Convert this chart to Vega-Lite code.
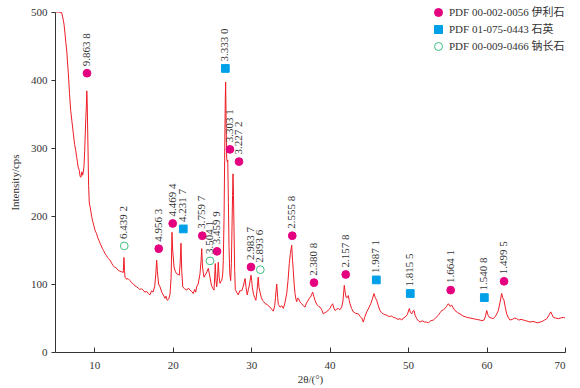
{
  "$schema": "https://vega.github.io/schema/vega-lite/v6.json",
  "width": 510,
  "height": 340,
  "autosize": {"type": "none"},
  "padding": {"left": 55, "top": 12, "right": 15, "bottom": 36},
  "config": {
    "view": {"stroke": null},
    "font": "Liberation Serif",
    "axis": {
      "grid": false,
      "domainColor": "#333333",
      "tickColor": "#333333",
      "labelColor": "#333333",
      "titleColor": "#333333",
      "labelFont": "Liberation Serif",
      "titleFont": "Liberation Serif",
      "labelFontSize": 11,
      "titleFontSize": 11,
      "titleFontWeight": "normal"
    },
    "legend": {
      "orient": "none",
      "legendX": 378,
      "legendY": -5,
      "padding": 0,
      "rowPadding": 4,
      "symbolSize": 64,
      "symbolStrokeWidth": 1,
      "labelFont": "Liberation Serif, Noto Sans CJK SC",
      "labelFontSize": 11,
      "labelColor": "#333333",
      "labelOffset": 5,
      "labelLimit": 200
    }
  },
  "datasets": {
    "xrd": [
      {"t":5.09,"i":500},{"t":5.5,"i":500},{"t":5.85,"i":499},{"t":5.95,"i":494},{"t":6.06,"i":488},{"t":6.15,"i":482},{"t":6.27,"i":469},{"t":6.38,"i":455},{"t":6.49,"i":444},{"t":6.6,"i":425},{"t":6.7,"i":410},{"t":6.85,"i":380},{"t":7.0,"i":355},{"t":7.15,"i":340},{"t":7.33,"i":322},{"t":7.5,"i":305},{"t":7.65,"i":296},{"t":7.77,"i":286},{"t":7.95,"i":272},{"t":8.1,"i":267},{"t":8.2,"i":258},{"t":8.31,"i":257},{"t":8.42,"i":265},{"t":8.53,"i":260},{"t":8.62,"i":266},{"t":8.7,"i":274},{"t":8.78,"i":295},{"t":8.86,"i":322},{"t":8.93,"i":345},{"t":8.99,"i":360},{"t":9.05,"i":384},{"t":9.1,"i":370},{"t":9.21,"i":297},{"t":9.28,"i":245},{"t":9.37,"i":219},{"t":9.5,"i":212},{"t":9.68,"i":199},{"t":9.8,"i":192},{"t":9.95,"i":186},{"t":10.1,"i":179},{"t":10.3,"i":174},{"t":10.45,"i":168},{"t":10.6,"i":164},{"t":10.74,"i":160},{"t":10.9,"i":156},{"t":11.05,"i":152},{"t":11.2,"i":149},{"t":11.37,"i":145},{"t":11.55,"i":142},{"t":11.7,"i":139},{"t":11.85,"i":137},{"t":12.01,"i":135},{"t":12.2,"i":131},{"t":12.4,"i":127},{"t":12.6,"i":125},{"t":12.86,"i":123},{"t":13.05,"i":120},{"t":13.25,"i":119},{"t":13.5,"i":118},{"t":13.7,"i":117},{"t":13.79,"i":139},{"t":13.86,"i":120},{"t":13.92,"i":110},{"t":14.1,"i":107},{"t":14.3,"i":108},{"t":14.56,"i":105},{"t":14.75,"i":102},{"t":15.0,"i":100},{"t":15.2,"i":97},{"t":15.41,"i":96},{"t":15.6,"i":94},{"t":15.8,"i":92},{"t":16.0,"i":93},{"t":16.25,"i":91},{"t":16.45,"i":88},{"t":16.7,"i":89},{"t":16.89,"i":86},{"t":17.1,"i":84},{"t":17.3,"i":90},{"t":17.5,"i":88},{"t":17.7,"i":96},{"t":17.85,"i":115},{"t":17.96,"i":135},{"t":18.05,"i":118},{"t":18.2,"i":100},{"t":18.38,"i":96},{"t":18.6,"i":88},{"t":18.8,"i":84},{"t":19.02,"i":79},{"t":19.15,"i":82},{"t":19.31,"i":76},{"t":19.5,"i":78},{"t":19.66,"i":85},{"t":19.8,"i":110},{"t":19.91,"i":176},{"t":20.0,"i":150},{"t":20.17,"i":125},{"t":20.35,"i":118},{"t":20.51,"i":115},{"t":20.7,"i":114},{"t":20.84,"i":113},{"t":20.95,"i":130},{"t":21.06,"i":160},{"t":21.15,"i":120},{"t":21.28,"i":96},{"t":21.5,"i":93},{"t":21.79,"i":91},{"t":22.0,"i":94},{"t":22.21,"i":91},{"t":22.42,"i":89},{"t":22.63,"i":86},{"t":22.8,"i":92},{"t":22.93,"i":88},{"t":23.06,"i":96},{"t":23.25,"i":100},{"t":23.48,"i":115},{"t":23.62,"i":135},{"t":23.7,"i":152},{"t":23.8,"i":125},{"t":23.99,"i":110},{"t":24.12,"i":113},{"t":24.25,"i":115},{"t":24.4,"i":119},{"t":24.54,"i":123},{"t":24.65,"i":116},{"t":24.76,"i":110},{"t":24.9,"i":100},{"t":25.01,"i":96},{"t":25.15,"i":93},{"t":25.27,"i":91},{"t":25.43,"i":130},{"t":25.52,"i":105},{"t":25.61,"i":96},{"t":25.72,"i":110},{"t":25.81,"i":132},{"t":25.92,"i":110},{"t":26.03,"i":101},{"t":26.15,"i":104},{"t":26.25,"i":105},{"t":26.38,"i":115},{"t":26.45,"i":135},{"t":26.55,"i":200},{"t":26.62,"i":282},{"t":26.7,"i":370},{"t":26.75,"i":397},{"t":26.82,"i":330},{"t":26.88,"i":285},{"t":26.95,"i":280},{"t":27.02,"i":282},{"t":27.1,"i":220},{"t":27.18,"i":154},{"t":27.28,"i":115},{"t":27.39,"i":105},{"t":27.48,"i":130},{"t":27.56,"i":184},{"t":27.63,"i":230},{"t":27.69,"i":262},{"t":27.75,"i":230},{"t":27.81,"i":184},{"t":27.9,"i":120},{"t":27.98,"i":92},{"t":28.15,"i":88},{"t":28.36,"i":84},{"t":28.55,"i":90},{"t":28.8,"i":90},{"t":29.0,"i":97},{"t":29.1,"i":102},{"t":29.22,"i":108},{"t":29.35,"i":95},{"t":29.5,"i":84},{"t":29.65,"i":92},{"t":29.8,"i":100},{"t":29.98,"i":113},{"t":30.07,"i":105},{"t":30.15,"i":95},{"t":30.3,"i":85},{"t":30.45,"i":80},{"t":30.6,"i":76},{"t":30.75,"i":90},{"t":30.9,"i":110},{"t":31.0,"i":95},{"t":31.13,"i":88},{"t":31.3,"i":80},{"t":31.45,"i":76},{"t":31.6,"i":74},{"t":31.8,"i":71},{"t":32.0,"i":70},{"t":32.2,"i":68},{"t":32.4,"i":66},{"t":32.6,"i":63},{"t":32.83,"i":60},{"t":33.0,"i":68},{"t":33.1,"i":80},{"t":33.26,"i":100},{"t":33.38,"i":80},{"t":33.46,"i":70},{"t":33.68,"i":66},{"t":33.9,"i":68},{"t":34.1,"i":64},{"t":34.3,"i":72},{"t":34.53,"i":86},{"t":34.7,"i":105},{"t":34.86,"i":130},{"t":35.0,"i":145},{"t":35.17,"i":157},{"t":35.27,"i":135},{"t":35.37,"i":120},{"t":35.48,"i":100},{"t":35.59,"i":86},{"t":35.7,"i":78},{"t":35.81,"i":74},{"t":35.9,"i":79},{"t":36.01,"i":79},{"t":36.2,"i":74},{"t":36.44,"i":71},{"t":36.65,"i":68},{"t":36.86,"i":66},{"t":37.05,"i":72},{"t":37.28,"i":76},{"t":37.45,"i":80},{"t":37.59,"i":81},{"t":37.72,"i":85},{"t":37.84,"i":88},{"t":37.98,"i":82},{"t":38.14,"i":76},{"t":38.28,"i":72},{"t":38.43,"i":69},{"t":38.6,"i":67},{"t":38.78,"i":66},{"t":39.0,"i":62},{"t":39.2,"i":56},{"t":39.4,"i":58},{"t":39.63,"i":59},{"t":39.85,"i":62},{"t":40.05,"i":64},{"t":40.2,"i":68},{"t":40.39,"i":71},{"t":40.55,"i":64},{"t":40.69,"i":61},{"t":40.9,"i":63},{"t":41.11,"i":64},{"t":41.3,"i":62},{"t":41.54,"i":66},{"t":41.7,"i":75},{"t":41.87,"i":98},{"t":41.98,"i":88},{"t":42.09,"i":81},{"t":42.25,"i":80},{"t":42.38,"i":83},{"t":42.5,"i":76},{"t":42.6,"i":71},{"t":42.8,"i":64},{"t":43.02,"i":59},{"t":43.3,"i":57},{"t":43.66,"i":56},{"t":43.9,"i":52},{"t":44.1,"i":50},{"t":44.29,"i":44},{"t":44.5,"i":52},{"t":44.73,"i":59},{"t":45.0,"i":65},{"t":45.24,"i":71},{"t":45.45,"i":78},{"t":45.66,"i":86},{"t":45.82,"i":80},{"t":46.0,"i":76},{"t":46.2,"i":68},{"t":46.42,"i":61},{"t":46.6,"i":58},{"t":46.84,"i":56},{"t":47.05,"i":55},{"t":47.28,"i":54},{"t":47.6,"i":52},{"t":47.9,"i":53},{"t":48.12,"i":51},{"t":48.4,"i":50},{"t":48.7,"i":48},{"t":48.97,"i":49},{"t":49.2,"i":47},{"t":49.4,"i":50},{"t":49.61,"i":51},{"t":49.9,"i":55},{"t":50.16,"i":64},{"t":50.3,"i":58},{"t":50.46,"i":56},{"t":50.6,"i":60},{"t":50.76,"i":61},{"t":50.9,"i":54},{"t":51.1,"i":49},{"t":51.3,"i":46},{"t":51.52,"i":44},{"t":51.8,"i":46},{"t":52.1,"i":44},{"t":52.37,"i":44},{"t":52.6,"i":43},{"t":52.9,"i":46},{"t":53.22,"i":47},{"t":53.5,"i":50},{"t":53.85,"i":54},{"t":54.1,"i":58},{"t":54.29,"i":61},{"t":54.5,"i":62},{"t":54.71,"i":64},{"t":54.9,"i":67},{"t":55.13,"i":71},{"t":55.35,"i":67},{"t":55.56,"i":69},{"t":55.75,"i":65},{"t":55.98,"i":61},{"t":56.3,"i":58},{"t":56.62,"i":56},{"t":57.0,"i":53},{"t":57.47,"i":51},{"t":57.9,"i":50},{"t":58.31,"i":49},{"t":58.7,"i":48},{"t":59.17,"i":47},{"t":59.4,"i":46},{"t":59.68,"i":47},{"t":59.85,"i":52},{"t":60.02,"i":61},{"t":60.2,"i":54},{"t":60.35,"i":51},{"t":60.6,"i":50},{"t":60.86,"i":49},{"t":61.1,"i":52},{"t":61.3,"i":56},{"t":61.5,"i":61},{"t":61.7,"i":72},{"t":61.93,"i":86},{"t":62.05,"i":80},{"t":62.23,"i":76},{"t":62.4,"i":65},{"t":62.57,"i":56},{"t":62.8,"i":50},{"t":62.99,"i":47},{"t":63.3,"i":48},{"t":63.6,"i":50},{"t":63.84,"i":49},{"t":64.1,"i":47},{"t":64.4,"i":48},{"t":64.69,"i":47},{"t":65.0,"i":46},{"t":65.3,"i":45},{"t":65.54,"i":44},{"t":65.9,"i":45},{"t":66.2,"i":44},{"t":66.5,"i":43},{"t":66.82,"i":44},{"t":67.1,"i":45},{"t":67.4,"i":47},{"t":67.67,"i":49},{"t":67.9,"i":53},{"t":68.18,"i":59},{"t":68.35,"i":55},{"t":68.51,"i":51},{"t":68.8,"i":50},{"t":69.15,"i":49},{"t":69.45,"i":50},{"t":69.78,"i":51},{"t":70.0,"i":50}
    ],
    "peaks": [
      {"t":9.08,"i":410,"phase":"PDF 00-002-0056 伊利石","label":"9.863 8"},
      {"t":13.83,"i":156,"phase":"PDF 00-009-0466 钠长石","label":"6.439 2"},
      {"t":18.22,"i":152,"phase":"PDF 00-002-0056 伊利石","label":"4.956 3"},
      {"t":20.0,"i":189,"phase":"PDF 00-002-0056 伊利石","label":"4.469 4"},
      {"t":21.35,"i":181,"phase":"PDF 01-075-0443 石英","label":"4.231 7"},
      {"t":23.77,"i":171,"phase":"PDF 00-002-0056 伊利石","label":"3.759 7"},
      {"t":24.76,"i":134,"phase":"PDF 00-009-0466 钠长石","label":"3.504 1"},
      {"t":25.65,"i":148,"phase":"PDF 00-002-0056 伊利石","label":"3.459 9"},
      {"t":26.71,"i":417,"phase":"PDF 01-075-0443 石英","label":"3.333 0"},
      {"t":27.3,"i":298,"phase":"PDF 00-002-0056 伊利石","label":"3.303 1"},
      {"t":28.45,"i":280,"phase":"PDF 00-002-0056 伊利石","label":"3.227 2"},
      {"t":29.98,"i":125,"phase":"PDF 00-002-0056 伊利石","label":"2.983 7"},
      {"t":31.17,"i":121,"phase":"PDF 00-009-0466 钠长石","label":"2.893 6"},
      {"t":35.24,"i":171,"phase":"PDF 00-002-0056 伊利石","label":"2.555 8"},
      {"t":38.01,"i":102,"phase":"PDF 00-002-0056 伊利石","label":"2.380 8"},
      {"t":42.05,"i":114,"phase":"PDF 00-002-0056 伊利石","label":"2.157 8"},
      {"t":45.95,"i":106,"phase":"PDF 01-075-0443 石英","label":"1.987 1"},
      {"t":50.28,"i":86,"phase":"PDF 01-075-0443 石英","label":"1.815 5"},
      {"t":55.43,"i":91,"phase":"PDF 00-002-0056 伊利石","label":"1.664 1"},
      {"t":59.72,"i":80,"phase":"PDF 01-075-0443 石英","label":"1.540 8"},
      {"t":62.23,"i":104,"phase":"PDF 00-002-0056 伊利石","label":"1.499 5"}
    ]
  },
  "layer": [
    {
      "data": {"name": "xrd"},
      "mark": {"type": "line", "color": "#EE1C25", "strokeWidth": 1, "clip": true},
      "encoding": {
        "x": {
          "field": "t", "type": "quantitative",
          "scale": {"domain": [5, 70], "nice": false, "zero": false},
          "axis": {
            "title": "2θ/(°)",
            "values": [10, 20, 30, 40, 50, 60, 70],
            "tickSize": -5,
            "labelPadding": 12,
            "titlePadding": 3
          }
        },
        "y": {
          "field": "i", "type": "quantitative",
          "scale": {"domain": [0, 500], "nice": false},
          "axis": {
            "title": "Intensity/cps",
            "values": [0, 100, 200, 300, 400, 500],
            "tickSize": 4,
            "labelPadding": 4,
            "titlePadding": 10
          }
        }
      }
    },
    {
      "data": {"name": "peaks"},
      "mark": {"type": "point", "filled": true, "opacity": 1, "strokeWidth": 1, "size": 60},
      "encoding": {
        "x": {"field": "t", "type": "quantitative"},
        "y": {"field": "i", "type": "quantitative"},
        "shape": {
          "field": "phase", "type": "nominal",
          "scale": {"domain": ["PDF 00-002-0056 伊利石", "PDF 01-075-0443 石英", "PDF 00-009-0466 钠长石"], "range": ["circle", "square", "circle"]},
          "legend": {"title": null}
        },
        "fill": {
          "field": "phase", "type": "nominal",
          "scale": {"domain": ["PDF 00-002-0056 伊利石", "PDF 01-075-0443 石英", "PDF 00-009-0466 钠长石"], "range": ["#E4007F", "#00A0E9", "#FFFFFF"]},
          "legend": {"title": null}
        },
        "stroke": {
          "field": "phase", "type": "nominal",
          "scale": {"domain": ["PDF 00-002-0056 伊利石", "PDF 01-075-0443 石英", "PDF 00-009-0466 钠长石"], "range": ["#E4007F", "#00A0E9", "#3DBE7E"]},
          "legend": {"title": null}
        }
      }
    },
    {
      "data": {"name": "peaks"},
      "mark": {"type": "text", "angle": 270, "align": "left", "baseline": "middle", "dx": 7, "fontSize": 11, "font": "Liberation Serif", "color": "#333333"},
      "encoding": {
        "x": {"field": "t", "type": "quantitative"},
        "y": {"field": "i", "type": "quantitative"},
        "text": {"field": "label", "type": "nominal"}
      }
    }
  ]
}
